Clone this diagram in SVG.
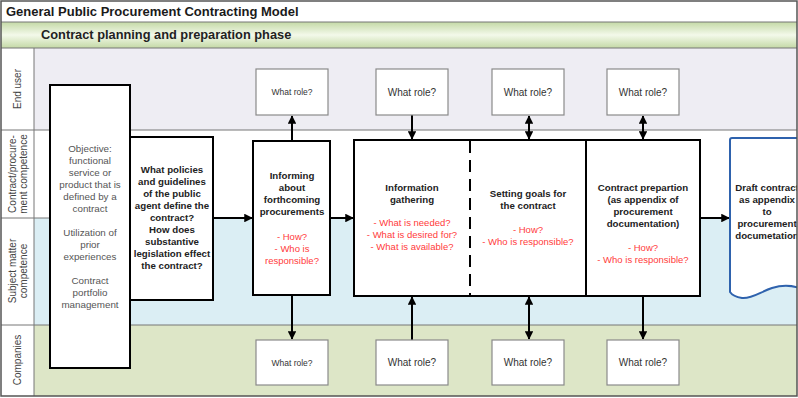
<svg xmlns="http://www.w3.org/2000/svg" width="798" height="398" viewBox="0 0 798 398">
<defs>
<linearGradient id="phaseGrad" x1="0" y1="0" x2="0" y2="1">
<stop offset="0" stop-color="#c4d9a6"/>
<stop offset="0.5" stop-color="#f3f9ea"/>
<stop offset="1" stop-color="#c4d9a6"/>
</linearGradient>
<marker id="ah" viewBox="0 0 10 10" refX="9" refY="5" markerWidth="4.3" markerHeight="4.3" orient="auto-start-reverse">
<path d="M0,0 L10,5 L0,10 Z" fill="#000"/>
</marker>
<clipPath id="frameClip"><rect x="1" y="1" width="796" height="395"/></clipPath>
</defs>
<style>
text{font-family:"Liberation Sans",Arial,sans-serif;}
.lane{stroke:#777;stroke-width:1;}
.lbl{font-size:10px;fill:#444;text-anchor:middle;}
.box{fill:#fff;stroke:#000;stroke-width:2;}
.role{fill:#fff;stroke:#8a8a8a;stroke-width:1.2;}
.rt{font-size:10px;fill:#333;text-anchor:middle;}
.rts{font-size:8.5px;fill:#333;text-anchor:middle;}
.bt{font-size:9.7px;font-weight:bold;fill:#222;text-anchor:middle;}
.gt{font-size:9.8px;fill:#555;text-anchor:middle;}
.red{font-size:9.5px;fill:#ff3b3b;text-anchor:middle;}
.conn{stroke:#000;stroke-width:2;fill:none;}
</style>
<rect x="0" y="0" width="798" height="398" fill="#fff"/>
<g id="lanes">
<rect x="1" y="1" width="796" height="21" fill="#fff"/>
<rect x="1" y="22" width="796" height="26" fill="url(#phaseGrad)"/>
<rect x="34" y="48" width="763" height="82" fill="#eeedf3"/>
<rect x="34" y="130" width="763" height="88" fill="#fff"/>
<rect x="34" y="218" width="763" height="107" fill="#dbeef4"/>
<rect x="34" y="325" width="763" height="71" fill="#dde6c7"/>
<rect x="1" y="48" width="33" height="348" fill="#fff"/>
<line class="lane" x1="1" y1="22" x2="797" y2="22"/>
<line class="lane" x1="1" y1="48" x2="797" y2="48"/>
<line class="lane" x1="1" y1="130" x2="797" y2="130"/>
<line class="lane" x1="1" y1="218" x2="797" y2="218"/>
<line class="lane" x1="1" y1="325" x2="797" y2="325"/>
<line class="lane" x1="34" y1="48" x2="34" y2="396"/>
<text x="6" y="16" font-size="13px" font-weight="bold" fill="#1a1a1a">General Public Procurement Contracting Model</text>
<text x="41" y="39" font-size="12.8px" font-weight="bold" fill="#222">Contract planning and preparation phase</text>
<text class="lbl" transform="translate(21,89) rotate(-90)">End user</text>
<text class="lbl" transform="translate(16,174) rotate(-90)">Contract/procure-</text>
<text class="lbl" transform="translate(27,174) rotate(-90)">ment competence</text>
<text class="lbl" transform="translate(16,271) rotate(-90)">Subject matter</text>
<text class="lbl" transform="translate(27,271) rotate(-90)">competence</text>
<text class="lbl" transform="translate(21,360) rotate(-90)">Companies</text>
</g>
<g id="connectors">
<line class="conn" x1="213" y1="218" x2="252" y2="218" marker-end="url(#ah)"/>
<line class="conn" x1="330" y1="218" x2="353" y2="218" marker-end="url(#ah)"/>
<line class="conn" x1="700" y1="218" x2="729" y2="218" marker-end="url(#ah)"/>
<line class="conn" x1="292" y1="141" x2="292" y2="116" marker-end="url(#ah)"/>
<line class="conn" x1="412" y1="115" x2="412" y2="139" marker-end="url(#ah)"/>
<line class="conn" x1="529" y1="116" x2="529" y2="139" marker-start="url(#ah)" marker-end="url(#ah)"/>
<line class="conn" x1="643" y1="116" x2="643" y2="139" marker-start="url(#ah)" marker-end="url(#ah)"/>
<line class="conn" x1="292" y1="295" x2="292" y2="339" marker-end="url(#ah)"/>
<line class="conn" x1="412" y1="340" x2="412" y2="297" marker-end="url(#ah)"/>
<line class="conn" x1="529" y1="297" x2="529" y2="339" marker-start="url(#ah)" marker-end="url(#ah)"/>
<line class="conn" x1="643" y1="296" x2="643" y2="339" marker-end="url(#ah)"/>
</g>
<g id="objective">
<rect class="box" x="50" y="85" width="80" height="283"/>
<text class="gt" x="90" y="152">Objective:</text>
<text class="gt" x="90" y="164">functional</text>
<text class="gt" x="90" y="176">service or</text>
<text class="gt" x="90" y="188">product that is</text>
<text class="gt" x="90" y="200">defined by a</text>
<text class="gt" x="90" y="212">contract</text>
<text class="gt" x="90" y="236">Utilization of</text>
<text class="gt" x="90" y="248">prior</text>
<text class="gt" x="90" y="260">experiences</text>
<text class="gt" x="90" y="284">Contract</text>
<text class="gt" x="90" y="296">portfolio</text>
<text class="gt" x="90" y="308">management</text>
</g>
<g id="policies">
<rect class="box" x="130" y="137" width="83" height="163"/>
<text class="bt" x="172" y="173">What policies</text>
<text class="bt" x="172" y="185">and guidelines</text>
<text class="bt" x="172" y="197">of the public</text>
<text class="bt" x="172" y="209">agent define the</text>
<text class="bt" x="172" y="221">contract?</text>
<text class="bt" x="172" y="233">How does</text>
<text class="bt" x="172" y="245">substantive</text>
<text class="bt" x="172" y="257">legislation effect</text>
<text class="bt" x="172" y="269">the contract?</text>
</g>
<g id="informing">
<rect class="box" x="253" y="141" width="77" height="154"/>
<text class="bt" x="292" y="179">Informing</text>
<text class="bt" x="292" y="191">about</text>
<text class="bt" x="292" y="203">forthcoming</text>
<text class="bt" x="292" y="215">procurements</text>
<text class="red" x="292" y="240">- How?</text>
<text class="red" x="292" y="252">- Who is</text>
<text class="red" x="292" y="264">responsible?</text>
</g>
<g id="process">
<rect class="box" x="354" y="140" width="346" height="156"/>
<line x1="470" y1="141" x2="470" y2="295" stroke="#000" stroke-width="2" stroke-dasharray="12,7"/>
<line x1="586" y1="140" x2="586" y2="296" stroke="#000" stroke-width="2"/>
</g>
<g id="info-gathering">
<text class="bt" x="412" y="191">Information</text>
<text class="bt" x="412" y="203">gathering</text>
<text class="red" x="412" y="226">- What is needed?</text>
<text class="red" x="412" y="238">- What is desired for?</text>
<text class="red" x="412" y="250">- What is available?</text>
</g>
<g id="setting-goals">
<text class="bt" x="528" y="197">Setting goals for</text>
<text class="bt" x="528" y="209">the contract</text>
<text class="red" x="528" y="233">- How?</text>
<text class="red" x="528" y="245">- Who is responsible?</text>
</g>
<g id="contract-prep">
<text class="bt" x="643" y="191">Contract prepartion</text>
<text class="bt" x="643" y="203">(as  appendix of</text>
<text class="bt" x="643" y="215">procurement</text>
<text class="bt" x="643" y="227">documentation)</text>
<text class="red" x="643" y="251">- How?</text>
<text class="red" x="643" y="263">- Who is responsible?</text>
</g>
<g id="draft" clip-path="url(#frameClip)">
<path d="M730,292 L730,140 Q730,138 732,138 L802,138 L802,289 C792,285 782,285 772,288 C760,292 752,299 742,298 C736,297 732,295 730,292 Z" fill="#fff" stroke="#2e62ad" stroke-width="2"/>
<text class="bt" x="767" y="191">Draft contract</text>
<text class="bt" x="767" y="203">as appendix</text>
<text class="bt" x="767" y="215">to</text>
<text class="bt" x="767" y="227">procurement</text>
<text class="bt" x="767" y="239">documetation</text>
</g>
<g id="role-eu-1"><rect class="role" x="256" y="69" width="72" height="46"/><text class="rts" x="292" y="95">What role?</text></g>
<g id="role-eu-2"><rect class="role" x="376" y="69" width="72" height="46"/><text class="rt" x="412" y="96">What role?</text></g>
<g id="role-eu-3"><rect class="role" x="492" y="69" width="72" height="46"/><text class="rt" x="528" y="96">What role?</text></g>
<g id="role-eu-4"><rect class="role" x="607" y="69" width="72" height="46"/><text class="rt" x="643" y="96">What role?</text></g>
<g id="role-co-1"><rect class="role" x="256" y="340" width="72" height="45"/><text class="rts" x="292" y="366">What role?</text></g>
<g id="role-co-2"><rect class="role" x="376" y="340" width="72" height="45"/><text class="rt" x="412" y="366">What role?</text></g>
<g id="role-co-3"><rect class="role" x="492" y="340" width="72" height="45"/><text class="rt" x="528" y="366">What role?</text></g>
<g id="role-co-4"><rect class="role" x="607" y="340" width="72" height="45"/><text class="rt" x="643" y="366">What role?</text></g>
<rect x="1" y="1" width="796" height="395" fill="none" stroke="#555" stroke-width="1.5"/>
</svg>
